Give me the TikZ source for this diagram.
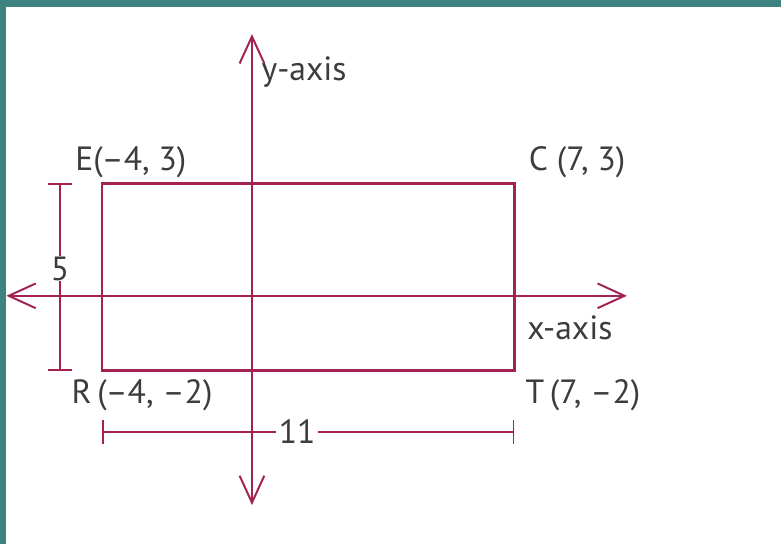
\documentclass[tikz,border=0pt]{standalone}
\usepackage{fontspec}
\setmainfont{PT Sans}
\usepackage{tikz}
\usetikzlibrary{arrows.meta,calc}
\usepackage{xcolor}
\definecolor{plum}{RGB}{163,34,84}
\definecolor{ink}{RGB}{60,60,60}
\definecolor{frame}{RGB}{62,130,130}
\tikzset{
  axis/.style={draw=plum,line width=1.5pt,{Straight Barb[length=0.72cm,width=0.66cm]}-{Straight Barb[length=0.72cm,width=0.66cm]}},
  box/.style={draw=plum,line width=2pt},
  dim/.style={draw=plum,line width=1.4pt,{Bar[width=0.62cm]}-{Bar[width=0.62cm]}},
  lbl/.style={text=ink,font=\fontsize{25.5}{28}\selectfont,inner sep=1pt},
}

\begin{document}
\begin{tikzpicture}[x=1cm,y=1cm]
\useasboundingbox[fill=white] (-6.72,-6.61) rectangle (14.11,7.89);
\fill[frame] (-6.72,7.70) rectangle (14.11,7.89);
\fill[frame] (-6.72,-6.61) rectangle (-6.56,7.89);

% points
\coordinate (O) at (0,0);
\coordinate (E) at (-4,3);
\coordinate (C) at (7,3);
\coordinate (R) at (-4,-2);
\coordinate (T) at (7,-2);
\coordinate (xl) at (-6.55,0);
\coordinate (xr) at (10.0,0);
\coordinate (yt) at (0,6.98);
\coordinate (yb) at (0,-5.58);

% axes and rectangle
\draw[axis] (xl) -- (xr);
\draw[axis] (yb) -- (yt);
\draw[box] (E) -- (C) -- (T) -- (R) -- cycle;

% dimensions
\draw[dim] ($(E)+(-1.12,0)$) -- node[pos=0.455,fill=white,lbl,inner sep=0.5pt]{5} ($(R)+(-1.12,0)$);
\draw[dim] ($(R)+(0,-1.63)$) -- node[pos=0.473,fill=white,lbl,inner sep=2pt]{11} ($(T)+(0,-1.63)$);

% labels
\node[lbl] (Elbl) at (-3.23,3.55) {E(–4, 3)};
\node[lbl] (Clbl) at (8.67,3.55) {C (7, 3)};
\node[lbl] (Rlbl) at (-2.93,-2.64) {R\,(–4, –2)};
\node[lbl] (Tlbl) at (8.83,-2.64) {T\,(7, –2)};
\node[lbl] (xlbl) at (8.48,-0.85) {x-axis};
\node[lbl] (ylbl) at (1.39,5.97) {y-axis};
\end{tikzpicture}
\end{document}
